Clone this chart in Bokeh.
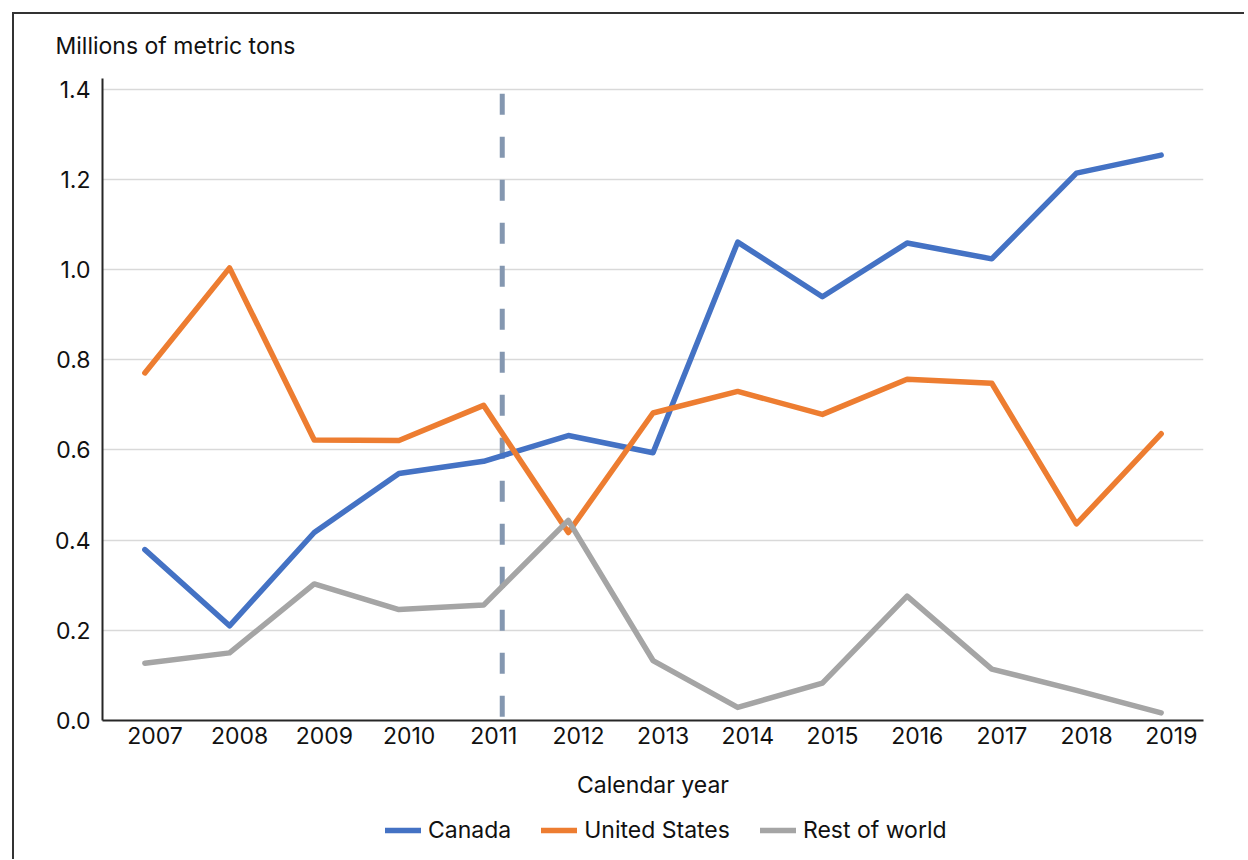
from bokeh.plotting import figure
from bokeh.layouts import column
from bokeh.models import (Legend, LegendItem, FixedTicker, NumeralTickFormatter,
                          CustomJSTickFormatter, Range1d)
from bokeh.embed import file_html
from bokeh.resources import INLINE

# ---- data ----
years = [2007, 2008, 2009, 2010, 2011, 2012, 2013, 2014, 2015, 2016, 2017, 2018, 2019]
canada = [0.379, 0.210, 0.417, 0.548, 0.575, 0.632, 0.594, 1.061, 0.940, 1.059, 1.024, 1.214, 1.254]
united_states = [0.771, 1.004, 0.622, 0.621, 0.699, 0.417, 0.682, 0.730, 0.679, 0.757, 0.748, 0.436, 0.636]
rest_of_world = [0.127, 0.150, 0.303, 0.246, 0.256, 0.444, 0.133, 0.029, 0.083, 0.276, 0.114, 0.067, 0.017]
series_names = ["Canada", "United States", "Rest of world"]
y_ticks = [0.0, 0.2, 0.4, 0.6, 0.8, 1.0, 1.2, 1.4]
reference_year = 2011.22      # dashed vertical reference line
reference_top = 1.39

# ---- style ----
FONT = "Inter"
FS = "23px"
TXT = "#111111"
colors = ["#4472C4", "#ED7D31", "#A5A5A5"]
label_shift = 0.12
LW = 5.5
series = [canada, united_states, rest_of_world]

p = figure(frame_width=1101, frame_height=642,
           x_range=Range1d(2006.5, 2019.5), y_range=Range1d(0, 1.424),
           output_backend="svg", toolbar_location=None,
           min_border_left=88, min_border_right=41, min_border_top=64, min_border_bottom=80)
p.outline_line_color = None
p.background_fill_color = "white"
p.border_fill_color = "white"

p.title.text = "Millions of metric tons"
p.title.align = "left"
p.title.vertical_align = "top"
p.title.offset = -47
p.title.standoff = 33
p.title.text_font = FONT
p.title.text_font_size = FS
p.title.text_font_style = "normal"
p.title.text_color = TXT

# reference line
p.segment(x0=[reference_year], y0=[reference_top], x1=[reference_year], y1=[0],
          line_width=5, line_color="#8497B0", line_dash="21 22", line_cap="butt")

for vals, col in zip(series, colors):
    p.line(years, vals, line_width=LW, line_color=col, line_cap="round", line_join="round")

# axes
xa = p.xaxis[0]
xa.ticker = FixedTicker(ticks=[y + label_shift for y in years])
xa.formatter = CustomJSTickFormatter(code="return Math.round(tick).toString();")
xa.major_tick_line_color = None
xa.minor_tick_line_color = None
xa.axis_line_color = "#262626"
xa.axis_line_width = 2
xa.major_label_standoff = 0
xa.major_label_text_font = FONT
xa.major_label_text_font_size = FS
xa.major_label_text_color = TXT
xa.axis_label = "Calendar year"
xa.axis_label_standoff = 24
xa.axis_label_text_font = FONT
xa.axis_label_text_font_size = FS
xa.axis_label_text_font_style = "normal"
xa.axis_label_text_color = TXT

ya = p.yaxis[0]
ya.ticker = FixedTicker(ticks=y_ticks)
ya.formatter = NumeralTickFormatter(format="0.0")
ya.major_tick_line_color = None
ya.minor_tick_line_color = None
ya.axis_line_color = "#262626"
ya.axis_line_width = 2
ya.major_label_standoff = 6
ya.major_label_text_font = FONT
ya.major_label_text_font_size = FS
ya.major_label_text_color = TXT

p.xgrid.grid_line_color = None
p.ygrid.grid_line_color = "#d9d9d9"
p.ygrid.grid_line_width = 1.5

# ---- legend strip below the chart (series lines lie outside its view; only keys show) ----
lf = figure(width=1230, height=58, x_range=Range1d(0, 1), y_range=Range1d(0, 1),
            x_axis_type=None, y_axis_type=None, output_backend="svg",
            toolbar_location=None, min_border=0)
lf.outline_line_color = None
lf.grid.visible = False
lf.background_fill_color = "white"
lf.border_fill_color = "white"
keys = [lf.line(years, vals, line_width=LW, line_color=col, line_cap="round")
        for vals, col in zip(series, colors)]

legend = Legend(items=[LegendItem(label=n, renderers=[r]) for n, r in zip(series_names, keys)],
                orientation="horizontal", location=(283, 15),
                border_line_color=None, background_fill_alpha=0,
                padding=5, margin=0, spacing=30,
                glyph_width=36, glyph_height=20, label_standoff=7,
                label_text_font=FONT, label_text_font_size=FS, label_text_color=TXT)
lf.add_layout(legend)

layout = column(p, lf, spacing=0,
                styles={"margin-left": "12px", "margin-top": "12px",
                        "border-top": "2px solid #333333", "border-left": "2px solid #333333"})

open("out.html", "w").write(file_html(layout, INLINE, title="chart"))
